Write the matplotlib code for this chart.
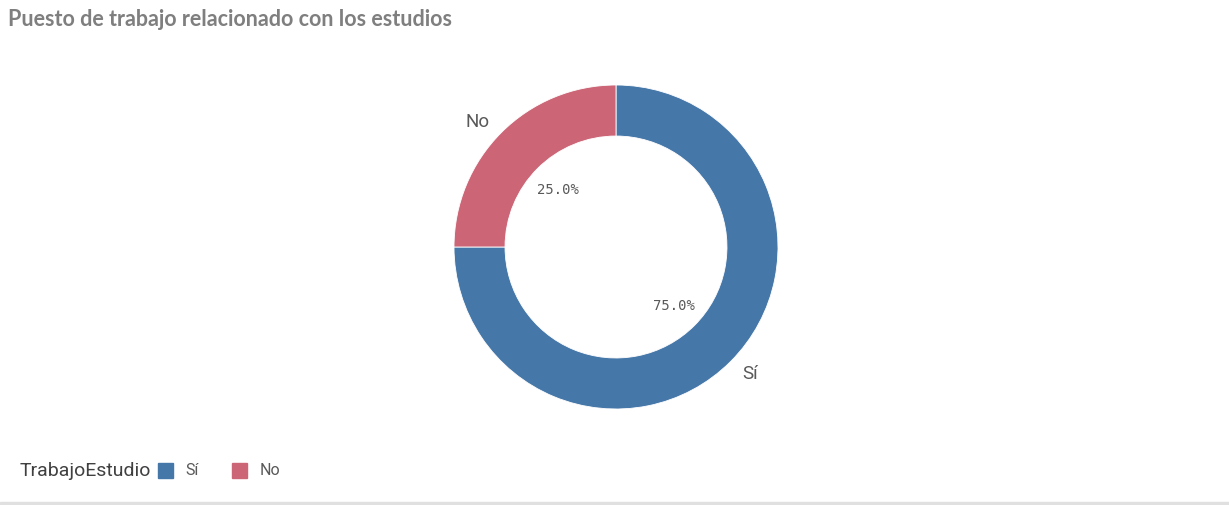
"""Donut chart: puesto de trabajo relacionado con los estudios."""

import matplotlib

matplotlib.use("Agg")
import matplotlib.pyplot as plt
from matplotlib.patches import Rectangle

TITLE = "Puesto de trabajo relacionado con los estudios"
LEGEND_TITLE = "TrabajoEstudio"
CATEGORIES = ["Sí", "No"]
SHARES = [75.0, 25.0]
COLORS = ["#4677a9", "#cc6677"]

W, H = 1229, 506
DPI = 100

fig = plt.figure(figsize=(W / DPI, H / DPI), dpi=DPI)
fig.patch.set_facecolor("white")

# donut axes, pixel box centred at (616, 248) with radius 162
cx, cy, r = 616, 248, 162
ax = fig.add_axes([(cx - r) / W, (H - cy - r) / H, 2 * r / W, 2 * r / H])
wedges, texts, autotexts = ax.pie(
    SHARES,
    labels=CATEGORIES,
    colors=COLORS,
    startangle=90,
    counterclock=False,
    radius=1.0,
    labeldistance=1.10,
    pctdistance=0.51,
    autopct="%.1f%%",
    wedgeprops={"width": 0.315, "edgecolor": "white", "linewidth": 0.6},
    textprops={"family": "Roboto", "fontsize": 13.5, "color": "#595959"},
)
for t in autotexts:
    t.set_fontfamily("DejaVu Sans Mono")
    t.set_fontsize(10)
    t.set_color("#595959")
ax.set_xlim(-1, 1)
ax.set_ylim(-1, 1)
ax.axis("off")

# title
fig.text(8 / W, 1 - 19 / H, TITLE, family="Lato", weight="bold",
         fontsize=15.5, color="#7f7f7f", va="center", ha="left")

# legend
ly = 1 - 471 / H
fig.text(20 / W, ly, LEGEND_TITLE, family="Roboto", fontsize=14,
         color="#404040", va="center", ha="left")
legend_items = [(158, 185), (232, 260)]
for (sx, tx), cat, col in zip(legend_items, CATEGORIES, COLORS):
    fig.patches.append(Rectangle((sx / W, (H - 479) / H), 15 / W, 15 / H,
                                 transform=fig.transFigure, color=col))
    fig.text(tx / W, ly, cat, family="Roboto", fontsize=11.5,
             color="#595959", va="center", ha="left")

# bottom separator
fig.patches.append(Rectangle((0, 0), 1, 3 / H, transform=fig.transFigure,
                             color="#e0e0e0"))

fig.savefig("out.png", dpi=DPI)
